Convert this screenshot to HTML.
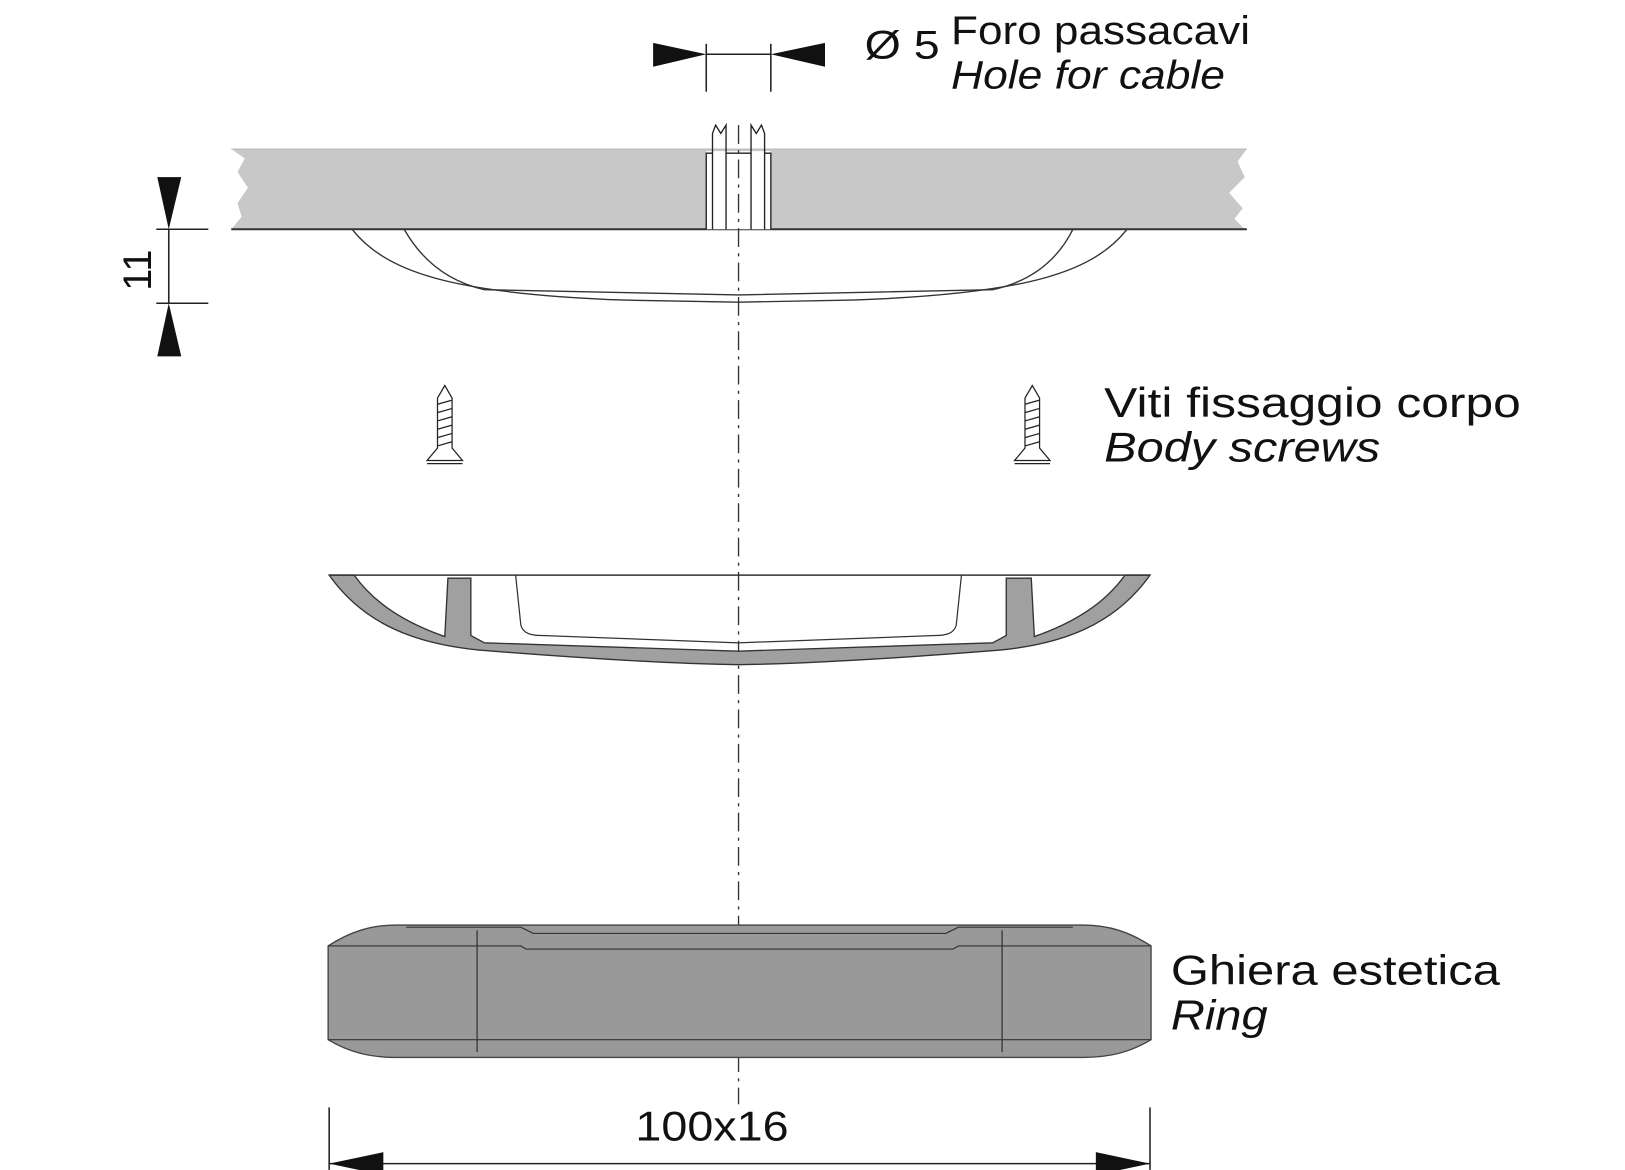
<!DOCTYPE html>
<html><head><meta charset="utf-8"><style>
html,body{margin:0;padding:0;background:#fff;}
svg{display:block;}
text{font-family:"Liberation Sans",sans-serif;fill:#111;}
</style></head><body>
<svg width="1625" height="1170" viewBox="0 0 1560 1123" xmlns="http://www.w3.org/2000/svg">
<!-- top dimension -->
<g stroke="#222" stroke-width="1.5" fill="none">
<line x1="678" y1="42" x2="678" y2="88"/><line x1="740" y1="42" x2="740" y2="88"/>
<line x1="678" y1="52" x2="740" y2="52"/>
</g>
<polygon points="627,41 678,52 627,64" fill="#111"/>
<polygon points="792,41 740,52 792,64" fill="#111"/>
<text x="830" y="56" font-size="38" textLength="72" lengthAdjust="spacingAndGlyphs">Ø 5</text>
<text x="913" y="42" font-size="38" textLength="287" lengthAdjust="spacingAndGlyphs">Foro passacavi</text>
<text x="913" y="85" font-size="38" font-style="italic" textLength="263" lengthAdjust="spacingAndGlyphs">Hole for cable</text>

<!-- plate -->
<path d="M222,143 L1197,143 L1188,155 L1195,170 L1180,185 L1193,200 L1185,210 L1195,220 L222,220 L232,208 L228,195 L238,180 L228,165 L235,152 Z" fill="#c8c8c8"/>
<line x1="222" y1="143" x2="1197" y2="143" stroke="#bbb" stroke-width="1"/>
<line x1="222" y1="220" x2="1197" y2="220" stroke="#333" stroke-width="2"/>
<!-- pipe -->
<rect x="678" y="145" width="62" height="75" fill="#fff"/>
<g stroke="#222" stroke-width="1.3" fill="none">
<path d="M678,220 V147 H684 M740,220 V147 H734"/>
<path d="M684,220 V128 L687,120 L692,128 L697,120 V147 H721 V120 L726,128 L731,120 L734,128 V220"/>
<line x1="697" y1="147" x2="697" y2="220"/><line x1="721" y1="147" x2="721" y2="220"/>
</g>
<!-- dome -->
<g stroke="#333" stroke-width="1.3" fill="none">
<path d="M338,220 C370,260 430,282 600,288 L709,290 L818,288 C990,282 1050,260 1082,220"/>
<path d="M388,220 C405,250 430,270 465,278 L709,283 L953,278 C990,270 1015,250 1030,220"/>
</g>
<!-- centerline -->
<line x1="709" y1="120" x2="709" y2="1060" stroke="#333" stroke-width="1.3" stroke-dasharray="18,6,3,6"/>

<!-- left dim 11 -->
<g stroke="#222" stroke-width="1.5">
<line x1="150" y1="220" x2="200" y2="220"/><line x1="150" y1="291" x2="200" y2="291"/>
<line x1="162" y1="220" x2="162" y2="291"/>
</g>
<polygon points="151,170 174,170 162,220" fill="#111"/>
<polygon points="151,342 174,342 162,291" fill="#111"/>
<text x="0" y="0" font-size="38" transform="translate(145,279) rotate(-90)">11</text>

<!-- screws -->
<g stroke="#222" stroke-width="1.2" fill="#fff">
<g transform="translate(427,0)">
<path d="M-7,382 L0,370 L7,382 L7,430 L17,442 L-17,442 L-7,430 Z"/>
<path d="M-7,388 L7,384 M-7,396 L7,392 M-7,404 L7,400 M-7,412 L7,408 M-7,420 L7,416 M-7,428 L7,424" />
<line x1="-17" y1="445" x2="17" y2="445"/>
</g>
<g transform="translate(991,0)">
<path d="M-7,382 L0,370 L7,382 L7,430 L17,442 L-17,442 L-7,430 Z"/>
<path d="M-7,388 L7,384 M-7,396 L7,392 M-7,404 L7,400 M-7,412 L7,408 M-7,420 L7,416 M-7,428 L7,424" />
<line x1="-17" y1="445" x2="17" y2="445"/>
</g>
</g>
<text x="1060" y="400" font-size="40" textLength="400" lengthAdjust="spacingAndGlyphs">Viti fissaggio corpo</text>
<text x="1060" y="443" font-size="40" font-style="italic" textLength="265" lengthAdjust="spacingAndGlyphs">Body screws</text>

<!-- body section -->
<path d="M316,552 L340,552 C360,580 390,598 427,611 L430,555 L452,555 L452,610 L465,617 L709,625 L953,617 L966,610 L966,555 L990,555 L993,611 C1030,598 1060,580 1080,552 L1104,552 C1070,600 1020,618 960,624 C860,632 780,637 709,638 C640,637 560,632 460,624 C400,618 350,600 316,552 Z" fill="#a0a0a0" stroke="#333" stroke-width="1.3"/>
<line x1="316" y1="552" x2="1104" y2="552" stroke="#333" stroke-width="1.5"/>
<path d="M495,552 L500,600 C502,608 510,610 520,610 L709,617 L898,610 C908,610 916,608 918,600 L923,552" fill="none" stroke="#333" stroke-width="1.2"/>

<!-- ring -->
<path d="M315,908 C335,895 355,888 380,888 L1040,888 C1065,888 1085,895 1105,908 L1105,998 C1085,1010 1065,1015 1040,1015 L380,1015 C355,1015 335,1010 315,998 Z" fill="#999" stroke="#444" stroke-width="1.3"/>
<g stroke="#333" stroke-width="1.2" fill="none">
<line x1="458" y1="893" x2="458" y2="1010"/><line x1="962" y1="893" x2="962" y2="1010"/>
<path d="M315,908 L500,908 L505,911 L915,911 L920,908 L1105,908"/>
<path d="M315,998 L1105,998"/>
<path d="M390,890 L500,890 L512,896 L908,896 L920,890 L1030,890"/>
</g>
<text x="1124" y="945" font-size="40" textLength="316" lengthAdjust="spacingAndGlyphs">Ghiera estetica</text>
<text x="1124" y="988" font-size="40" font-style="italic" textLength="93" lengthAdjust="spacingAndGlyphs">Ring</text>

<!-- bottom dim -->
<g stroke="#222" stroke-width="1.5">
<line x1="316" y1="1063" x2="316" y2="1123"/><line x1="1104" y1="1063" x2="1104" y2="1123"/>
<line x1="316" y1="1117" x2="1104" y2="1117"/>
</g>
<polygon points="316,1117 368,1106 368,1128" fill="#111"/>
<polygon points="1104,1117 1052,1106 1052,1128" fill="#111"/>
<text x="610" y="1095" font-size="40" textLength="147" lengthAdjust="spacingAndGlyphs">100x16</text>
</svg>
</body></html>
